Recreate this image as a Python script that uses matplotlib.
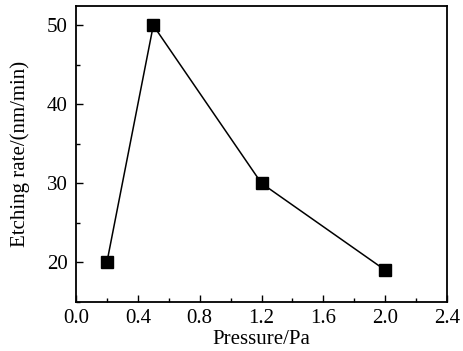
import matplotlib
matplotlib.use('Agg')
import matplotlib.pyplot as plt
from matplotlib.ticker import MultipleLocator

# data
pressure = [0.2, 0.5, 1.2, 2.0]
etch_rate = [20, 50, 30, 19]

plt.rcParams['font.family'] = ['Liberation Serif', 'DejaVu Serif']

fig = plt.figure(figsize=(4.64, 3.51), dpi=100)
ax = fig.add_axes([0.1638, 0.1405, 0.7996, 0.8433])

ax.plot(pressure, etch_rate, color='black', lw=1.1, marker='s', ms=8.5,
        markerfacecolor='black', markeredgecolor='black')

ax.set_xlim(0.0, 2.4)
ax.set_ylim(15, 52.5)
ax.xaxis.set_major_locator(MultipleLocator(0.4))
ax.xaxis.set_minor_locator(MultipleLocator(0.2))
ax.yaxis.set_major_locator(MultipleLocator(10))
ax.yaxis.set_minor_locator(MultipleLocator(5))
ax.xaxis.set_major_formatter(plt.FuncFormatter(lambda v, p: f'{v:.1f}'))

ax.tick_params(which='both', direction='in', top=False, right=False,
               labelsize=15, width=1.0)
ax.tick_params(axis='y', pad=6)
ax.tick_params(axis='x', pad=5)
ax.tick_params(which='major', length=5)
ax.tick_params(which='minor', length=3)
for s in ax.spines.values():
    s.set_linewidth(1.3)

ax.set_xlabel('Pressure/Pa', fontsize=15, labelpad=2)
ax.set_ylabel('Etching rate/(nm/min)', fontsize=15, labelpad=12)

fig.savefig('out.png', dpi=100)
